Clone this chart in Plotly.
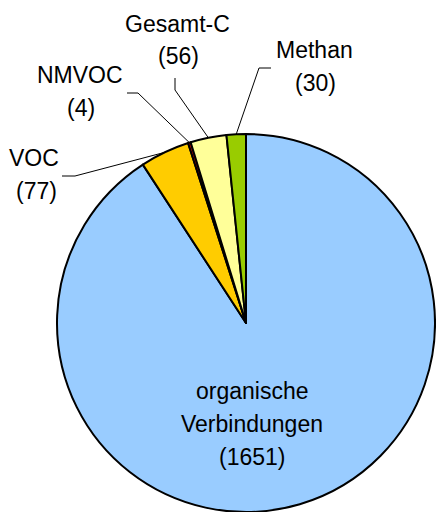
import math
import plotly.graph_objects as go

labels = ["organische Verbindungen", "VOC", "NMVOC", "Gesamt-C", "Methan"]
values = [1651, 77, 4, 56, 30]
colors = ["#99CCFF", "#FFCC00", "#FF0000", "#FFFF99", "#99CC00"]

W, H = 436, 512
CX, CY, R = 246, 323, 189
FONT = dict(family="Liberation Sans, Arial, sans-serif", size=23, color="#000000")

fig = go.Figure(go.Pie(
    labels=labels, values=values, sort=False, direction="clockwise", rotation=0,
    marker=dict(colors=colors, line=dict(color="#000000", width=2)),
    textinfo="none", hoverinfo="label+value", showlegend=False,
    domain=dict(x=[(CX - 190) / W, 1.0], y=[0, 378 / H]),
))

def px(x, y):
    return x / W, 1 - y / H

# label placement (pixel positions of text lines and leader elbows)
label_pos = {
    "VOC": dict(name=(34, 158), val=(36, 191), elbow=[(62, 176), (75, 176)]),
    "NMVOC": dict(name=(80, 75), val=(81, 108), elbow=[(127, 93), (138, 93)]),
    "Gesamt-C": dict(name=(177, 24), val=(178, 56), elbow=[(175, 78), (175, 90)]),
    "Methan": dict(name=(314, 50), val=(315, 83), elbow=[(271, 68), (259, 68)]),
}

total = sum(values)
cum = 0
shapes = []
annotations = []
for lab, v in zip(labels, values):
    mid = (cum + v / 2) / total * 2 * math.pi
    cum += v
    if lab in label_pos:
        p = label_pos[lab]
        ex = CX + R * math.sin(mid)
        ey = CY - R * math.cos(mid)
        pts = p["elbow"] + [(ex, ey)]
        path = "M " + " L ".join(f"{px(x, y)[0]},{px(x, y)[1]}" for x, y in pts)
        shapes.append(dict(type="path", xref="paper", yref="paper", path=path,
                           line=dict(color="#000000", width=1)))
        for key, txt in (("name", lab), ("val", f"({v})")):
            x, y = px(*p[key])
            annotations.append(dict(x=x, y=y, xref="paper", yref="paper", text=txt,
                                    showarrow=False, xanchor="center", yanchor="middle",
                                    font=FONT))
    else:
        words = lab.split(" ")
        lines = words + [f"({v})"]
        ys = [391, 424, 457]
        for t, yy in zip(lines, ys):
            x, y = px(252, yy)
            annotations.append(dict(x=x, y=y, xref="paper", yref="paper", text=t,
                                    showarrow=False, xanchor="center", yanchor="middle",
                                    font=FONT))

fig.update_layout(
    width=W, height=H, margin=dict(l=0, r=0, t=0, b=0),
    paper_bgcolor="#FFFFFF", plot_bgcolor="#FFFFFF",
    shapes=shapes, annotations=annotations, font=FONT,
)
fig.write_html("out.html", config={"displayModeBar": False},
               post_script="document.body.style.margin='0';document.body.style.padding='0';")
